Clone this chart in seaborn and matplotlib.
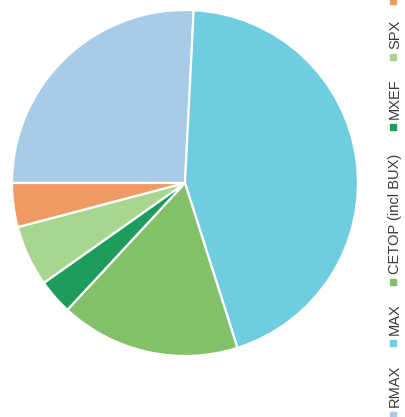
import matplotlib
matplotlib.use("Agg")
import matplotlib.pyplot as plt
import seaborn as sns

sns.set_theme(style="white")
plt.rcParams["font.family"] = ["Liberation Sans", "DejaVu Sans"]

# portfolio shares (%)
labels = ["RMAX", "MAX", "CETOP (incl BUX)", "MXEF", "SPX", "Other"]
shares = [25.8, 44.3, 16.8, 3.3, 5.7, 4.1]
colors = ["#a8cce8", "#6fcde0", "#82c06a", "#1e9c5c", "#a9d68f", "#ef9a63"]

W, H, DPI = 406, 417, 100
fig = plt.figure(figsize=(W / DPI, H / DPI), dpi=DPI)

# pie centre (185, 183) px from top-left, radius 173 px
cx, cy, r = 185, 183, 173
ax = fig.add_axes([(cx - r) / W, (H - cy - r) / H, 2 * r / W, 2 * r / H])
ax.pie(shares, colors=colors, startangle=180, counterclock=False,
       wedgeprops=dict(edgecolor="white", linewidth=1.6))
ax.set_xlim(-1, 1)
ax.set_ylim(-1, 1)

# vertical legend down the right edge (marker y in px from top)
fig.canvas.draw()
renderer = fig.canvas.get_renderer()
x_leg = 393
marker_y = [415, 343, 282, 127, 57, 1]
for lab, col, y in zip(labels, colors, marker_y):
    fig.patches.append(plt.Rectangle(((x_leg - 3) / W, (H - y - 3) / H), 6 / W, 6 / H,
                                     transform=fig.transFigure, color=col, figure=fig))
    t = fig.text((x_leg + 2) / W, (H - y + 8) / H, lab, rotation=90, ha="center", va="bottom",
                 fontsize=10.5, color="#3a3a3a")
    ext = t.get_window_extent(renderer)
    if H - y + 8 + ext.height > H:
        t.remove()  # label runs off the top edge, as in the source

fig.savefig("out.png", dpi=DPI)
